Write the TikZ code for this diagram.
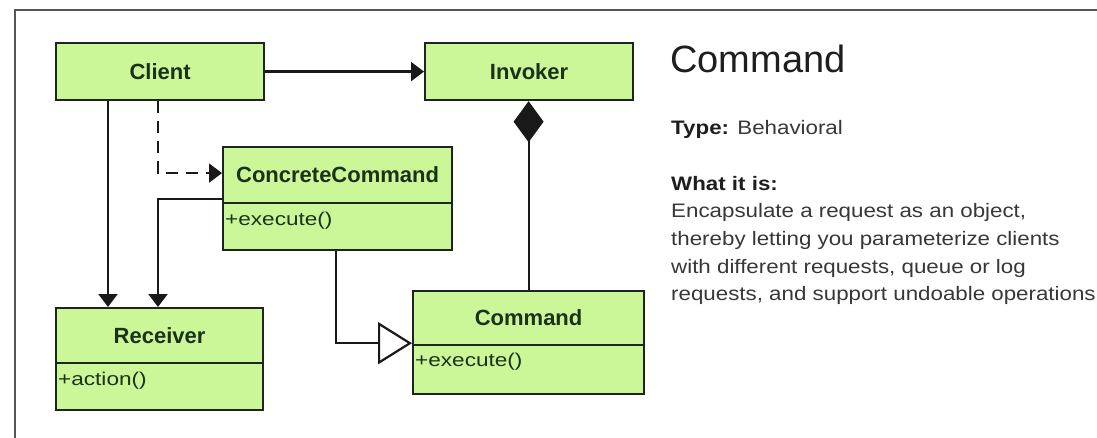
\documentclass[tikz,border=0pt]{standalone}
\usepackage{fontspec}
\setmainfont{Liberation Sans}
\newfontfamily\labf{Liberation Sans}
\newfontfamily\methf[FakeStretch=1.22]{Liberation Sans}
\newfontfamily\bodyf[FakeStretch=1.145]{Liberation Sans}
\usetikzlibrary{arrows.meta}
\definecolor{boxfill}{RGB}{204,247,153}
\definecolor{boxline}{RGB}{30,36,30}
\definecolor{boxtext}{RGB}{25,50,25}
\definecolor{bodytext}{RGB}{55,55,55}
\definecolor{titletext}{RGB}{30,30,30}
\definecolor{framecol}{RGB}{85,85,85}
\tikzset{
  cls/.style={draw=boxline, fill=boxfill, line width=2.2pt, inner sep=0pt, anchor=north west,
    font=\labf\bfseries\fontsize{22}{26}\selectfont, text=boxtext},
  conn/.style={line width=2.2pt, draw=black!90},
  meth/.style={anchor=base west, inner sep=0pt, font=\methf\fontsize{18.5}{22}\selectfont, text=boxtext},
  body/.style={anchor=base west, inner sep=0pt, font=\bodyf\fontsize{19.5}{27}\selectfont, text=bodytext},
  headtip/.style={-{Triangle[length=13pt,width=19pt]}},
  gentip/.style={-{Triangle[length=34pt,width=42pt,fill=white]}},
  comptip/.style={-{Diamond[length=41pt,width=30pt]}},
}
\begin{document}
\begin{tikzpicture}[x=1pt,y=-1pt]
\useasboundingbox (0,0) rectangle (1097,438);
\clip (0,0) rectangle (1097,438);
\fill[white] (0,0) rectangle (1097,438);
% frame
\draw[framecol, line width=1.6pt] (15,460) -- (15,10) -- (1120,10);

% classes
\node[cls, minimum width=208pt, minimum height=57pt] (client) at (55,42) {Client};
\node[cls, minimum width=208pt, minimum height=57pt] (invoker) at (424,42) {Invoker};

\node[cls, minimum width=229pt, minimum height=56pt] (ccn) at (222,146) {ConcreteCommand};
\node[cls, minimum width=229pt, minimum height=47pt] (ccm) at (222,202) {};
\node[meth] (cctxt) at ([xshift=3pt,yshift=-23.5pt]ccm.north west) {+execute()};

\node[cls, minimum width=207pt, minimum height=55pt] (rcvn) at (55,307) {Receiver};
\node[cls, minimum width=207pt, minimum height=47pt] (rcvm) at (55,362) {};
\node[meth] (rcvtxt) at ([xshift=3pt,yshift=-23.5pt]rcvm.north west) {+action()};

\node[cls, minimum width=231pt, minimum height=54pt] (cmdn) at (412,290) {Command};
\node[cls, minimum width=231pt, minimum height=49pt] (cmdm) at (412,344) {};
\node[meth] (cmdtxt) at ([xshift=3pt,yshift=-22.5pt]cmdm.north west) {+execute()};

% connectors
\draw[conn, headtip] (client.east) -- (invoker.west);
\draw[conn, headtip] ([xshift=53pt]client.south west) -- ([xshift=53pt]rcvn.north west);
\draw[conn, headtip, dash pattern=on 12pt off 8pt] ([xshift=103pt]client.south west) |- ([yshift=2pt]ccn.west);
\draw[conn, headtip] ([yshift=5pt]ccn.south west) -| ([xshift=103pt]rcvn.north west);
\draw[conn, gentip] ([xshift=114pt]ccm.south west) |- ([yshift=3pt]cmdn.south west);
\draw[conn, comptip] (cmdn.north) -- (cmdn.north |- invoker.south);

% description
\node[anchor=base west, inner sep=0pt, font=\fontsize{38}{44}\selectfont, text=titletext] (title) at (670,73) {Command};
\node[body] (type) at (671,135) {\textcolor{titletext}{\bfseries Type:} Behavioral};
\node[body, text=titletext] (what) at (671,191) {\bfseries What it is:};
\node[body] (l1) at (671,218) {Encapsulate a request as an object,};
\node[body] (l2) at (671,245.5) {thereby letting you parameterize clients};
\node[body] (l3) at (671,273) {with different requests, queue or log};
\node[body] (l4) at (671,300) {requests, and support undoable operations};
\end{tikzpicture}
\end{document}
